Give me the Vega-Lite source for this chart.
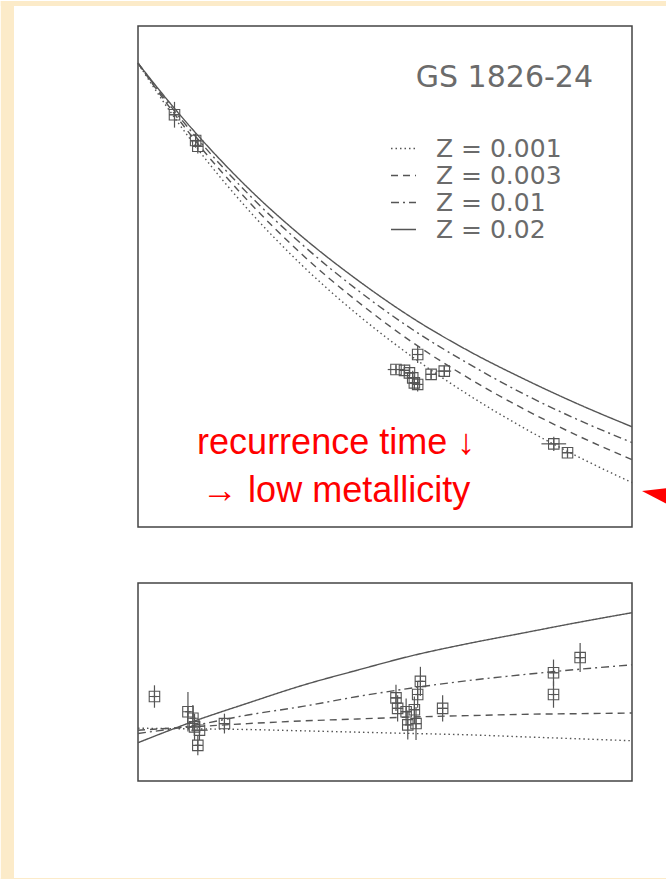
{
  "$schema": "https://vega.github.io/schema/vega-lite/v6.json",
  "background": "white",
  "padding": 0,
  "spacing": 56,
  "bounds": "flush",
  "resolve": {"legend": {"strokeDash": "independent"}},
  "config": {
    "view": {"stroke": "#444444", "strokeWidth": 1.5},
    "font": "DejaVu Sans",
    "axis": {
      "zindex": 1,
      "grid": false,
      "labelFont": "DejaVu Sans",
      "labelFontSize": 26,
      "labelColor": "#6b6b6b",
      "titleFont": "DejaVu Sans",
      "titleFontSize": 28,
      "titleFontWeight": "normal",
      "titleColor": "#6b6b6b",
      "domainColor": "#444444",
      "domainWidth": 1.5,
      "tickColor": "#444444",
      "tickWidth": 1,
      "labelOverlap": false,
      "labelBound": false
    }
  },
  "datasets": {
    "topcurves": [
      {"F": 2.1, "t": 6.24, "Z": "Z = 0.02"}, {"F": 2.2, "t": 6.0, "Z": "Z = 0.02"}, {"F": 2.3, "t": 5.775, "Z": "Z = 0.02"}, {"F": 2.5, "t": 5.37, "Z": "Z = 0.02"}, {"F": 2.7, "t": 5.025, "Z": "Z = 0.02"}, {"F": 2.9, "t": 4.725, "Z": "Z = 0.02"}, {"F": 3.1, "t": 4.46, "Z": "Z = 0.02"}, {"F": 3.3, "t": 4.235, "Z": "Z = 0.02"}, {"F": 3.5, "t": 4.04, "Z": "Z = 0.02"}, {"F": 3.7, "t": 3.862, "Z": "Z = 0.02"}, {"F": 3.9, "t": 3.7, "Z": "Z = 0.02"},
      {"F": 2.1, "t": 6.24, "Z": "Z = 0.01"}, {"F": 2.2, "t": 5.986, "Z": "Z = 0.01"}, {"F": 2.3, "t": 5.75, "Z": "Z = 0.01"}, {"F": 2.5, "t": 5.33, "Z": "Z = 0.01"}, {"F": 2.7, "t": 4.97, "Z": "Z = 0.01"}, {"F": 2.9, "t": 4.655, "Z": "Z = 0.01"}, {"F": 3.1, "t": 4.38, "Z": "Z = 0.01"}, {"F": 3.3, "t": 4.145, "Z": "Z = 0.01"}, {"F": 3.5, "t": 3.935, "Z": "Z = 0.01"}, {"F": 3.7, "t": 3.752, "Z": "Z = 0.01"}, {"F": 3.9, "t": 3.59, "Z": "Z = 0.01"},
      {"F": 2.1, "t": 6.24, "Z": "Z = 0.003"}, {"F": 2.2, "t": 5.971, "Z": "Z = 0.003"}, {"F": 2.3, "t": 5.72, "Z": "Z = 0.003"}, {"F": 2.5, "t": 5.28, "Z": "Z = 0.003"}, {"F": 2.7, "t": 4.9, "Z": "Z = 0.003"}, {"F": 2.9, "t": 4.575, "Z": "Z = 0.003"}, {"F": 3.1, "t": 4.29, "Z": "Z = 0.003"}, {"F": 3.3, "t": 4.045, "Z": "Z = 0.003"}, {"F": 3.5, "t": 3.83, "Z": "Z = 0.003"}, {"F": 3.7, "t": 3.64, "Z": "Z = 0.003"}, {"F": 3.9, "t": 3.47, "Z": "Z = 0.003"},
      {"F": 2.1, "t": 6.24, "Z": "Z = 0.001"}, {"F": 2.2, "t": 5.95, "Z": "Z = 0.001"}, {"F": 2.3, "t": 5.685, "Z": "Z = 0.001"}, {"F": 2.5, "t": 5.22, "Z": "Z = 0.001"}, {"F": 2.7, "t": 4.824, "Z": "Z = 0.001"}, {"F": 2.9, "t": 4.484, "Z": "Z = 0.001"}, {"F": 3.1, "t": 4.188, "Z": "Z = 0.001"}, {"F": 3.3, "t": 3.928, "Z": "Z = 0.001"}, {"F": 3.5, "t": 3.698, "Z": "Z = 0.001"}, {"F": 3.7, "t": 3.494, "Z": "Z = 0.001"}, {"F": 3.9, "t": 3.31, "Z": "Z = 0.001"}
    ],
    "toppts": [
      {"F": 2.233, "t": 5.88, "Fl": 2.213, "Fh": 2.253, "tl": 5.79, "th": 5.97},
      {"F": 2.31, "t": 5.7, "Fl": 2.29, "Fh": 2.33, "tl": 5.65, "th": 5.75},
      {"F": 2.318, "t": 5.66, "Fl": 2.298, "Fh": 2.338, "tl": 5.61, "th": 5.71},
      {"F": 3.04, "t": 4.1, "Fl": 3.01, "Fh": 3.07, "tl": 4.07, "th": 4.13},
      {"F": 3.071, "t": 4.094, "Fl": 3.051, "Fh": 3.091, "tl": 4.054, "th": 4.134},
      {"F": 3.089, "t": 4.077, "Fl": 3.069, "Fh": 3.109, "tl": 4.037, "th": 4.117},
      {"F": 3.101, "t": 4.042, "Fl": 3.081, "Fh": 3.121, "tl": 3.992, "th": 4.092},
      {"F": 3.107, "t": 4.007, "Fl": 3.087, "Fh": 3.127, "tl": 3.957, "th": 4.057},
      {"F": 3.119, "t": 3.996, "Fl": 3.099, "Fh": 3.139, "tl": 3.946, "th": 4.046},
      {"F": 3.119, "t": 4.205, "Fl": 3.104, "Fh": 3.134, "tl": 4.145, "th": 4.265},
      {"F": 3.168, "t": 4.066, "Fl": 3.148, "Fh": 3.188, "tl": 4.036, "th": 4.096},
      {"F": 3.216, "t": 4.089, "Fl": 3.191, "Fh": 3.241, "tl": 4.049, "th": 4.129},
      {"F": 3.615, "t": 3.581, "Fl": 3.57, "Fh": 3.66, "tl": 3.531, "th": 3.631},
      {"F": 3.665, "t": 3.519, "Fl": 3.645, "Fh": 3.685, "tl": 3.489, "th": 3.549}
    ],
    "botcurves": [
      {"F": 2.1, "f": 1.058, "Z": "Z = 0.02"}, {"F": 2.3, "f": 1.09, "Z": "Z = 0.02"}, {"F": 2.5, "f": 1.118, "Z": "Z = 0.02"}, {"F": 2.7, "f": 1.145, "Z": "Z = 0.02"}, {"F": 2.9, "f": 1.168, "Z": "Z = 0.02"}, {"F": 3.1, "f": 1.19, "Z": "Z = 0.02"}, {"F": 3.3, "f": 1.208, "Z": "Z = 0.02"}, {"F": 3.5, "f": 1.224, "Z": "Z = 0.02"}, {"F": 3.7, "f": 1.24, "Z": "Z = 0.02"}, {"F": 3.9, "f": 1.255, "Z": "Z = 0.02"},
      {"F": 2.1, "f": 1.072, "Z": "Z = 0.01"}, {"F": 2.3, "f": 1.084, "Z": "Z = 0.01"}, {"F": 2.5, "f": 1.1, "Z": "Z = 0.01"}, {"F": 2.7, "f": 1.113, "Z": "Z = 0.01"}, {"F": 2.9, "f": 1.128, "Z": "Z = 0.01"}, {"F": 3.1, "f": 1.141, "Z": "Z = 0.01"}, {"F": 3.3, "f": 1.152, "Z": "Z = 0.01"}, {"F": 3.5, "f": 1.161, "Z": "Z = 0.01"}, {"F": 3.7, "f": 1.169, "Z": "Z = 0.01"}, {"F": 3.9, "f": 1.176, "Z": "Z = 0.01"},
      {"F": 2.1, "f": 1.077, "Z": "Z = 0.003"}, {"F": 2.3, "f": 1.082, "Z": "Z = 0.003"}, {"F": 2.5, "f": 1.087, "Z": "Z = 0.003"}, {"F": 2.7, "f": 1.091, "Z": "Z = 0.003"}, {"F": 2.9, "f": 1.094, "Z": "Z = 0.003"}, {"F": 3.1, "f": 1.097, "Z": "Z = 0.003"}, {"F": 3.3, "f": 1.099, "Z": "Z = 0.003"}, {"F": 3.5, "f": 1.101, "Z": "Z = 0.003"}, {"F": 3.7, "f": 1.102, "Z": "Z = 0.003"}, {"F": 3.9, "f": 1.103, "Z": "Z = 0.003"},
      {"F": 2.1, "f": 1.08, "Z": "Z = 0.001"}, {"F": 2.3, "f": 1.079, "Z": "Z = 0.001"}, {"F": 2.5, "f": 1.078, "Z": "Z = 0.001"}, {"F": 2.7, "f": 1.076, "Z": "Z = 0.001"}, {"F": 2.9, "f": 1.074, "Z": "Z = 0.001"}, {"F": 3.1, "f": 1.072, "Z": "Z = 0.001"}, {"F": 3.3, "f": 1.07, "Z": "Z = 0.001"}, {"F": 3.5, "f": 1.067, "Z": "Z = 0.001"}, {"F": 3.7, "f": 1.064, "Z": "Z = 0.001"}, {"F": 3.9, "f": 1.061, "Z": "Z = 0.001"}
    ],
    "botpts": [
      {"F": 2.16, "f": 1.128, "Fl": 2.15, "Fh": 2.17, "fl": 1.111, "fh": 1.145},
      {"F": 2.282, "f": 1.105, "Fl": 2.272, "Fh": 2.292, "fl": 1.075, "fh": 1.135},
      {"F": 2.3, "f": 1.095, "Fl": 2.29, "Fh": 2.31, "fl": 1.075, "fh": 1.115},
      {"F": 2.306, "f": 1.082, "Fl": 2.286, "Fh": 2.326, "fl": 1.062, "fh": 1.102},
      {"F": 2.318, "f": 1.054, "Fl": 2.308, "Fh": 2.328, "fl": 1.039, "fh": 1.069},
      {"F": 2.324, "f": 1.077, "Fl": 2.294, "Fh": 2.354, "fl": 1.062, "fh": 1.092},
      {"F": 2.415, "f": 1.087, "Fl": 2.395, "Fh": 2.435, "fl": 1.072, "fh": 1.102},
      {"F": 3.129, "f": 1.151, "Fl": 3.119, "Fh": 3.139, "fl": 1.129, "fh": 1.173},
      {"F": 3.119, "f": 1.131, "Fl": 3.109, "Fh": 3.129, "fl": 1.111, "fh": 1.151},
      {"F": 3.04, "f": 1.126, "Fl": 3.02, "Fh": 3.06, "fl": 1.106, "fh": 1.146},
      {"F": 3.046, "f": 1.11, "Fl": 3.026, "Fh": 3.066, "fl": 1.09, "fh": 1.13},
      {"F": 3.077, "f": 1.105, "Fl": 3.057, "Fh": 3.097, "fl": 1.085, "fh": 1.125},
      {"F": 3.107, "f": 1.108, "Fl": 3.087, "Fh": 3.127, "fl": 1.088, "fh": 1.128},
      {"F": 3.083, "f": 1.085, "Fl": 3.073, "Fh": 3.093, "fl": 1.063, "fh": 1.107},
      {"F": 3.113, "f": 1.087, "Fl": 3.093, "Fh": 3.133, "fl": 1.062, "fh": 1.112},
      {"F": 3.21, "f": 1.11, "Fl": 3.195, "Fh": 3.225, "fl": 1.09, "fh": 1.13},
      {"F": 3.614, "f": 1.164, "Fl": 3.599, "Fh": 3.629, "fl": 1.144, "fh": 1.184},
      {"F": 3.614, "f": 1.131, "Fl": 3.604, "Fh": 3.624, "fl": 1.111, "fh": 1.151},
      {"F": 3.711, "f": 1.187, "Fl": 3.701, "Fh": 3.721, "fl": 1.165, "fh": 1.209}
    ]
  },
  "vconcat": [
    {
      "width": 494,
      "height": 501,
      "layer": [
        {
          "data": {"name": "topcurves"},
          "mark": {"type": "line", "color": "#555555", "strokeWidth": 1.4, "interpolate": "monotone"},
          "encoding": {
            "x": {"field": "F", "type": "quantitative", "scale": {"domain": [2.1, 3.9], "nice": false, "zero": false},
              "axis": {"orient": "bottom", "values": [2.5, 3.0, 3.5], "labels": false, "title": null, "tickSize": -10}},
            "y": {"field": "t", "type": "quantitative", "scale": {"domain": [3, 6.5], "nice": false, "zero": false},
              "axis": {"orient": "left", "title": "Burst recurrence time (hr)", "titlePadding": 26,
                "values": [3.0, 3.5, 4.0, 4.5, 5.0, 5.5, 6.0, 6.5], "format": ".1f",
                "labelFlush": true, "labelPadding": 20, "tickSize": -10}},
            "strokeDash": {"field": "Z", "type": "nominal",
              "scale": {"domain": ["Z = 0.001", "Z = 0.003", "Z = 0.01", "Z = 0.02"], "range": [[1.5, 3], [7, 5], [8, 4, 2, 4], [1, 0]]},
              "legend": {"orient": "none", "legendX": 252, "legendY": 109, "title": null, "symbolType": "stroke", "symbolSize": 625,
                "symbolStrokeColor": "#555555", "symbolStrokeWidth": 1.4, "labelFontSize": 25, "labelFont": "DejaVu Sans",
                "labelColor": "#6b6b6b", "rowPadding": 0, "labelOffset": 19, "padding": 0}}
          }
        },
        {
          "data": {"values": [
            {"x1": 1.6, "x2": 1.6482, "y1": 0.53, "y2": 6.675},
            {"x1": 1.6, "x2": 4.027, "y1": 6.6397, "y2": 6.675},
            {"x1": 1.6, "x2": 4.027, "y1": 0.53, "y2": 0.548}
          ]},
          "mark": {"type": "rect", "color": "#fcebc9", "clip": false},
          "encoding": {
            "x": {"field": "x1", "type": "quantitative", "scale": {"domain": [2.1, 3.9], "nice": false, "zero": false}, "axis": null},
            "x2": {"field": "x2"},
            "y": {"field": "y1", "type": "quantitative", "scale": {"domain": [3, 6.5], "nice": false, "zero": false}, "axis": null},
            "y2": {"field": "y2"}
          }
        },
        {
          "data": {"name": "toppts"},
          "mark": {"type": "rule", "color": "#555555", "strokeWidth": 1.2},
          "encoding": {
            "x": {"field": "F", "type": "quantitative", "scale": {"domain": [2.1, 3.9], "nice": false, "zero": false}, "axis": null},
            "y": {"field": "tl", "type": "quantitative", "scale": {"domain": [3, 6.5], "nice": false, "zero": false}, "axis": null},
            "y2": {"field": "th"}
          }
        },
        {
          "data": {"name": "toppts"},
          "mark": {"type": "rule", "color": "#555555", "strokeWidth": 1.2},
          "encoding": {
            "x": {"field": "Fl", "type": "quantitative", "scale": {"domain": [2.1, 3.9], "nice": false, "zero": false}, "axis": null},
            "x2": {"field": "Fh"},
            "y": {"field": "t", "type": "quantitative", "scale": {"domain": [3, 6.5], "nice": false, "zero": false}, "axis": null}
          }
        },
        {
          "data": {"name": "toppts"},
          "mark": {"type": "point", "shape": "M -1 -1 H 1 V 1 H -1 Z M -1 0 H 1 M 0 -1 V 1", "filled": false, "color": "#555555", "strokeWidth": 1.1, "size": 110, "opacity": 1},
          "encoding": {
            "x": {"field": "F", "type": "quantitative", "scale": {"domain": [2.1, 3.9], "nice": false, "zero": false}, "axis": null},
            "y": {"field": "t", "type": "quantitative", "scale": {"domain": [3, 6.5], "nice": false, "zero": false}, "axis": null}
          }
        },
        {
          "data": {"values": [{"F": 2.822, "t": 3.51, "label": "recurrence time ↓"}, {"F": 2.822, "t": 3.175, "label": "→ low metallicity"}]},
          "mark": {"type": "text", "font": "Liberation Sans", "fontSize": 36, "color": "#ff0000", "align": "center", "baseline": "alphabetic"},
          "encoding": {
            "x": {"field": "F", "type": "quantitative", "scale": {"domain": [2.1, 3.9], "nice": false, "zero": false}, "axis": null},
            "y": {"field": "t", "type": "quantitative", "scale": {"domain": [3, 6.5], "nice": false, "zero": false}, "axis": null},
            "text": {"field": "label", "type": "nominal"}
          }
        },
        {
          "data": {"values": [{"F": 3.435, "t": 6.137, "label": "GS 1826-24"}]},
          "mark": {"type": "text", "font": "DejaVu Sans", "fontSize": 30, "color": "#6b6b6b", "align": "center", "baseline": "middle"},
          "encoding": {
            "x": {"field": "F", "type": "quantitative", "scale": {"domain": [2.1, 3.9], "nice": false, "zero": false}, "axis": null},
            "y": {"field": "t", "type": "quantitative", "scale": {"domain": [3, 6.5], "nice": false, "zero": false}, "axis": null},
            "text": {"field": "label", "type": "nominal"}
          }
        },
        {
          "data": {"values": [{"F": 3.982, "t": 3.2165}]},
          "mark": {"type": "point", "shape": "M -1 -0.4 L 1 -0.64 L 1 0.64 Z", "filled": true, "color": "#ff0000", "size": 625, "opacity": 1, "clip": false},
          "encoding": {
            "x": {"field": "F", "type": "quantitative", "scale": {"domain": [2.1, 3.9], "nice": false, "zero": false}, "axis": null},
            "y": {"field": "t", "type": "quantitative", "scale": {"domain": [3, 6.5], "nice": false, "zero": false}, "axis": null}
          }
        }
      ]
    },
    {
      "width": 494,
      "height": 198,
      "layer": [
        {
          "data": {"name": "botcurves"},
          "mark": {"type": "line", "color": "#555555", "strokeWidth": 1.4, "interpolate": "monotone"},
          "encoding": {
            "x": {"field": "F", "type": "quantitative", "scale": {"domain": [2.1, 3.9], "nice": false, "zero": false},
              "axis": {"orient": "bottom", "values": [2.5, 3.0, 3.5], "format": ".1f", "labelPadding": 31, "labelFlush": false,
                "title": "Persistent flux (10⁻⁹ ergs cm⁻² s⁻¹)", "titleFontSize": 30, "titlePadding": 6, "tickSize": -10}},
            "y": {"field": "f", "type": "quantitative", "scale": {"domain": [1.0, 1.3], "nice": false, "zero": false},
              "axis": {"orient": "left", "title": "Fluence (10⁻⁶ ergs cm⁻²)", "titlePadding": 26,
                "values": [1.0, 1.1, 1.2, 1.3], "format": ".1f",
                "labelFlush": true, "labelPadding": 20, "tickSize": -10}},
            "strokeDash": {"field": "Z", "type": "nominal",
              "scale": {"domain": ["Z = 0.001", "Z = 0.003", "Z = 0.01", "Z = 0.02"], "range": [[1.5, 3], [7, 5], [8, 4, 2, 4], [1, 0]]},
              "legend": null}
          }
        },
        {
          "data": {"name": "botpts"},
          "mark": {"type": "rule", "color": "#555555", "strokeWidth": 1.2},
          "encoding": {
            "x": {"field": "F", "type": "quantitative", "scale": {"domain": [2.1, 3.9], "nice": false, "zero": false}, "axis": null},
            "y": {"field": "fl", "type": "quantitative", "scale": {"domain": [1.0, 1.3], "nice": false, "zero": false}, "axis": null},
            "y2": {"field": "fh"}
          }
        },
        {
          "data": {"name": "botpts"},
          "mark": {"type": "rule", "color": "#555555", "strokeWidth": 1.2},
          "encoding": {
            "x": {"field": "Fl", "type": "quantitative", "scale": {"domain": [2.1, 3.9], "nice": false, "zero": false}, "axis": null},
            "x2": {"field": "Fh"},
            "y": {"field": "f", "type": "quantitative", "scale": {"domain": [1.0, 1.3], "nice": false, "zero": false}, "axis": null}
          }
        },
        {
          "data": {"name": "botpts"},
          "mark": {"type": "point", "shape": "M -1 -1 H 1 V 1 H -1 Z M -1 0 H 1 M 0 -1 V 1", "filled": false, "color": "#555555", "strokeWidth": 1.1, "size": 110, "opacity": 1},
          "encoding": {
            "x": {"field": "F", "type": "quantitative", "scale": {"domain": [2.1, 3.9], "nice": false, "zero": false}, "axis": null},
            "y": {"field": "f", "type": "quantitative", "scale": {"domain": [1.0, 1.3], "nice": false, "zero": false}, "axis": null}
          }
        }
      ]
    }
  ]
}
